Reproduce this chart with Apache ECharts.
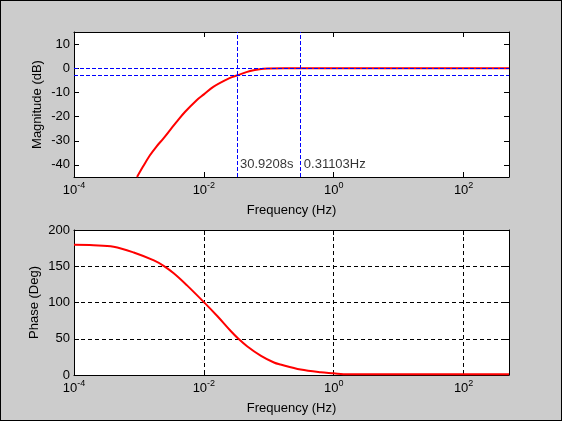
<!DOCTYPE html>
<html><head><meta charset="utf-8">
<script src="https://cdn.jsdelivr.net/npm/echarts@6/dist/echarts.min.js"></script>
<style>
html,body{margin:0;padding:0;background:#cccccc;}
#c{width:562px;height:421px;box-sizing:border-box;border:1px solid #000;}
</style></head><body><div id="c"></div>
<script>
// ---- data (frequencies in Hz) ----
const magFreq = [0.000935, 0.001156, 0.001469, 0.001862, 0.002355, 0.002992, 0.003802, 0.005105, 0.00774, 0.01, 0.01396, 0.0253, 0.0323, 0.0515, 0.0828, 0.1, 0.3, 1, 10, 100, 500];
const magDb   = [-45, -40.7, -36.1, -32.4, -29.2, -25.7, -22.2, -18.1, -13.2, -10.8, -7.7, -4.0, -3.0, -1.1, -0.2, -0.1, 0, 0, 0, 0, 0];
const phaseFreq = [0.0001, 0.0002, 0.000407, 0.000832, 0.0017, 0.0024, 0.00347, 0.0055, 0.01, 0.0162, 0.0257, 0.0331, 0.0468, 0.0759, 0.120, 0.151, 0.309, 0.631, 1, 1.41, 10, 100, 500];
const phaseDeg  = [179.5, 179, 177, 169, 158, 150.5, 140, 123.6, 100.5, 81, 61, 51, 39.4, 26.4, 17.2, 14.4, 7.5, 3.75, 2.4, 1.2, 1, 1, 1];
const cutoffPeriodS = 30.9208;       // s  -> marker at 1/period Hz
const upperFreqHz = 0.31103;         // Hz
const cutoffLevelsDb = [0, -3];
const annotations = ['30.9208s', '0.31103Hz'];
const annotationLevelDb = -40;
const freqMin = 0.0001, freqMax = 500;
const magTicks = [-40, -30, -20, -10, 0, 10];

const L = Math.log10;
const magData = magFreq.map((f, i) => [L(f), magDb[i]]);
const phaseData = phaseFreq.map((f, i) => [L(f), phaseDeg[i]]);
const markX = [L(1 / cutoffPeriodS), L(upperFreqHz)];

const FONT = 'Liberation Sans, Arial, sans-serif';
const black = '#000';
const blue = '#0000ff';
const rich = {
  b: {fontSize: 13, fontFamily: FONT, color: black},
  s: {fontSize: 9, fontFamily: FONT, color: black, padding: [0, 0, 9, 0]}
};
function xAx(grid, pos, labels, gridLines) {
  return {
    type: 'value', gridIndex: grid, position: pos,
    min: L(freqMin), max: L(freqMax), interval: 2,
    axisLine: {show: true, onZero: false, lineStyle: {color: black, width: 1}},
    axisTick: {show: true, inside: true, length: 5, lineStyle: {color: black}},
    axisLabel: labels ? {show: true, margin: 4, formatter: v => '{b|10}{s|' + v + '}', rich: rich, showMaxLabel: false} : {show: false},
    splitLine: gridLines ? {show: true, lineStyle: {color: black, type: [4, 3], width: 1}} : {show: false},
    name: labels ? 'Frequency (Hz)' : '', nameLocation: 'middle', nameGap: 27, nameMoveOverlap: false,
    nameTextStyle: {fontSize: 13, fontFamily: FONT, color: black}
  };
}
function yAx(grid, pos, labels, opts) {
  return Object.assign({
    type: 'value', gridIndex: grid, position: pos,
    axisLine: {show: true, onZero: false, lineStyle: {color: black, width: 1}},
    axisTick: {show: true, inside: true, length: 5, lineStyle: {color: black}},
    axisLabel: labels ? {show: true, margin: 4, fontSize: 13, fontFamily: FONT, color: black} : {show: false},
    splitLine: {show: false},
    nameLocation: 'middle', nameRotate: 90, nameMoveOverlap: false,
    nameTextStyle: {fontSize: 13, fontFamily: FONT, color: black}
  }, opts);
}
const magOpts = {min: -45, max: 15};
const chart = echarts.init(document.getElementById('c'), null, {renderer: 'canvas'});
const topY0 = yAx(0, 'left', true, Object.assign({name: 'Magnitude (dB)', nameGap: 30}, magOpts));
topY0.axisLabel.customValues = magTicks;
topY0.axisTick.customValues = magTicks;
const topY1 = yAx(0, 'right', false, Object.assign({}, magOpts));
topY1.axisTick.customValues = magTicks;
const botY0 = yAx(1, 'left', true, {min: 0, max: 200, interval: 50, name: 'Phase (Deg)', nameGap: 33,
  splitLine: {show: true, lineStyle: {color: black, type: [4, 3], width: 1}}});
const botY1 = yAx(1, 'right', false, {min: 0, max: 200, interval: 50});

const mlStyle = {color: blue, type: [4, 2], width: 1, opacity: 1};
chart.setOption({
  animation: false,
  backgroundColor: '#cccccc',
  color: [blue, '#ff0000', black, '#ff0000'],
  grid: [
    {left: 73, top: 31, width: 435, height: 145, backgroundColor: '#fff', show: true, borderWidth: 0},
    {left: 73, top: 229, width: 435, height: 145, backgroundColor: '#fff', show: true, borderWidth: 0}
  ],
  xAxis: [xAx(0, 'bottom', true, false), xAx(0, 'top', false, false), xAx(1, 'bottom', true, true), xAx(1, 'top', false, false)],
  yAxis: [topY0, topY1, botY0, botY1],
  series: [
    {type: 'line', xAxisIndex: 0, yAxisIndex: 0, data: [], z: 1, silent: true,
     itemStyle: {color: blue}, lineStyle: {color: blue},
     markLine: {symbol: 'none', silent: true, label: {show: false}, animation: false,
       emphasis: {disabled: true},
       lineStyle: mlStyle,
       data: markX.map(x => ({xAxis: x, lineStyle: mlStyle}))
         .concat(cutoffLevelsDb.map(y => ({yAxis: y, lineStyle: mlStyle})))}},
    {type: 'line', xAxisIndex: 0, yAxisIndex: 0, data: magData, showSymbol: false, z: 3,
     smooth: 0.35, clip: true,
     lineStyle: {color: '#ff0000', width: 2}},
    {type: 'scatter', xAxisIndex: 0, yAxisIndex: 0, symbolSize: 0, z: 4, silent: true,
     data: markX.map((x, i) => ({value: [x, annotationLevelDb], label: {formatter: annotations[i]}})),
     label: {show: true, position: 'right', distance: 3, fontSize: 13, fontFamily: FONT, color: black}},
    {type: 'line', xAxisIndex: 2, yAxisIndex: 2, data: phaseData, showSymbol: false, z: 3,
     smooth: 0.35,
     lineStyle: {color: '#ff0000', width: 2}}
  ]
});
</script></body></html>
